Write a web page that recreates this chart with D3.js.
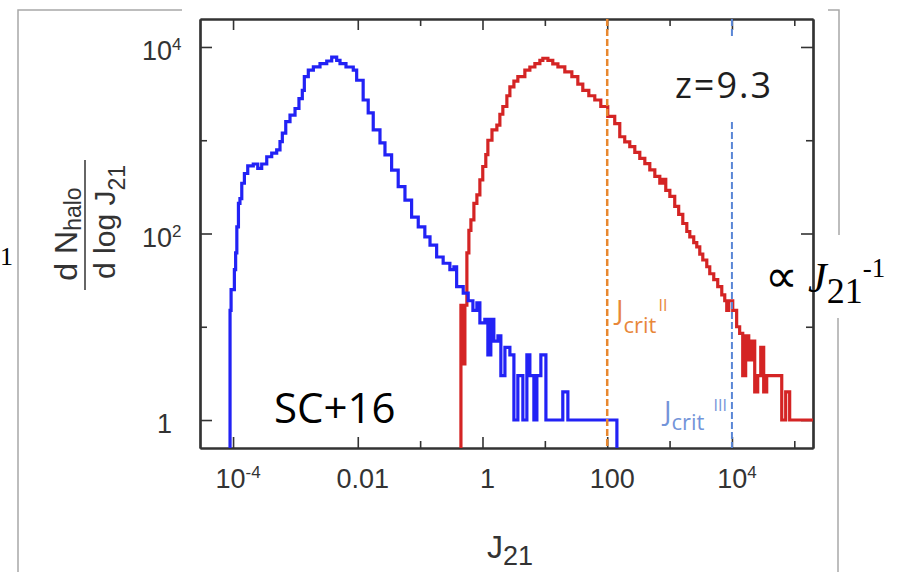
<!DOCTYPE html>
<html>
<head>
<meta charset="utf-8">
<script src="https://cdn.jsdelivr.net/npm/d3@7"></script>
<style>
  body { margin: 0; background: #fff; }
  svg { display: block; }
</style>
</head>
<body>
<div id="chart"></div>
<script>
// tick values and labels
const xMajor = [1e-4, 1e-2, 1, 1e2, 1e4];
const xMinor = [1e-1, 10, 1e3, 1e5];
const xLabelBase = ["10", "0.01", "1", "100", "10"];
const xLabelSup = ["-4", "", "", "", "4"];
const yMajor = [1, 1e2, 1e4];
const yMinor = [10, 1e3];
const yLabelBase = ["1", "10", "10"];
const yLabelSup = ["", "2", "4"];

// blue histogram (SC+16): left bin edge in J21, halo count
const blueJ = [8.95e-5, 8.95e-5, 9.3e-5, 1.05e-4, 1.10e-4, 1.15e-4, 1.22e-4, 1.29e-4, 1.38e-4, 1.52e-4,
  1.72e-4, 2.11e-4, 2.49e-4, 2.88e-4, 3.47e-4, 4.17e-4, 5.01e-4, 5.66e-4, 6.17e-4, 7.0e-4,
  8.19e-4, 9.86e-4, 1.14e-3, 1.29e-3, 1.39e-3, 1.61e-3, 1.94e-3, 2.48e-3, 3.18e-3, 3.82e-3,
  4.59e-3, 5.19e-3, 6.47e-3, 8.47e-3, 9.6e-3, 0.0122, 0.0147, 0.0177, 0.0227, 0.0273,
  0.0349, 0.0445, 0.0571, 0.073, 0.0933, 0.119, 0.144, 0.184, 0.234, 0.300,
  0.348, 0.385, 0.491, 0.59, 0.702, 0.813, 0.908, 1.09, 1.22, 1.36,
  1.52, 1.77, 1.97, 2.29, 2.75, 3.19, 3.69, 4.44, 5.15, 5.75,
  6.67, 7.45, 8.63, 10.4, 19.4, 23.4, 143];
const blueN = [0, 15, 25, 41, 62, 118, 210, 237, 346, 440,
  530, 556, 500, 556, 665, 728, 787, 966, 1190, 1580,
  1860, 2190, 2790, 3420, 4810, 5650, 6120, 6630, 7070, 7790,
  7180, 6630, 6100, 5650, 4400, 2700, 1970, 1290, 935, 697,
  478, 318, 228, 150, 118, 92, 75, 56, 48, 41,
  44, 27, 23, 19, 15, 18, 11, 12, 5, 12,
  7, 8, 3, 6, 5, 1, 3, 1, 5, 3,
  1, 3, 5, 1, 2, 1, 0];

// red histogram
const redJ = [0.451, 0.451, 0.494, 0.522, 0.562, 0.605, 0.652, 0.728, 0.813, 0.908,
  1.01, 1.13, 1.22, 1.42, 1.70, 1.90, 2.12, 2.46, 2.75, 3.19,
  3.69, 4.78, 5.75, 6.92, 8.32, 9.29, 11.2, 13.4, 16.2, 20.9,
  27.1, 33.8, 40.6, 50.7, 63.2, 78.9, 102, 132, 159, 191,
  230, 277, 333, 401, 482, 580, 697, 778, 869, 1010,
  1210, 1400, 1630, 1890, 2110, 2440, 2730, 3050, 3410, 3950,
  4410, 5110, 5920, 6870, 7670, 8260, 8890, 10300, 11900, 13300,
  14900, 16600, 18600, 20800, 23200, 25900, 29000, 32300, 36100, 40400,
  62900, 72800, 84300, 2e5];
const redN = [0, 17, 4, 17, 62, 108, 140, 210, 260, 375,
  523, 700, 1000, 1290, 1450, 1900, 2300, 3000, 3740, 4300,
  4810, 5650, 6100, 6630, 7200, 7570, 7180, 6600, 6120, 5400,
  4810, 4000, 3420, 3000, 2700, 2300, 1800, 1510, 1090, 960,
  855, 740, 640, 560, 480, 410, 346, 380, 290, 250,
  195, 160, 128, 105, 92, 80, 72, 60, 52, 44,
  37, 32, 27, 22, 19, 15, 19, 15, 10, 8.5,
  3, 8, 4.4, 7, 2, 3, 6, 2, 3, 3,
  1, 2, 1, 1];

// critical values
const jCritII = 100;
const jCritIII = 1e4;

const W = 908, H = 572;
const margin = { top: 19, right: 95, bottom: 124, left: 200 };
const width = W - margin.left - margin.right;
const height = H - margin.top - margin.bottom;

const svg = d3.select("#chart").append("svg")
  .attr("width", W)
  .attr("height", H);

svg.append("rect").attr("width", W).attr("height", H).attr("fill", "#fff");

// slide frame bits in grey
const frame = svg.append("g").attr("stroke", "#a8a8a8").attr("stroke-width", 1.5).attr("fill", "none");
frame.append("path").attr("d", "M18,572V10H182");
frame.append("path").attr("d", "M828,10H839V235");
frame.append("path").attr("d", "M838,318V572");

svg.append("text")
  .attr("x", 0).attr("y", 265)
  .style("font-family", "'Liberation Serif', 'Times New Roman', serif")
  .style("font-size", "26px")
  .text("1");

const x = d3.scaleLog().domain([Math.pow(10, -4.53), Math.pow(10, 5.3)]).range([0, width]);
const y = d3.scaleLog().domain([Math.pow(10, -0.3), Math.pow(10, 4.3)]).range([height, 0]);

const g = svg.append("g").attr("transform", `translate(${margin.left},${margin.top})`);

g.append("clipPath").attr("id", "plotclip")
  .append("rect").attr("width", width).attr("height", height);

const axisColor = "#333";
const fontSans = "'Liberation Sans', Arial, Helvetica, sans-serif";

function addAxis(axis, transform) {
  const a = g.append("g")
    .attr("transform", transform)
    .style("color", axisColor)
    .call(axis);
  a.select(".domain").attr("stroke-width", 2.2);
  a.selectAll(".tick line").attr("stroke-width", 1.6);
  return a;
}

// major & minor ticks on all four sides, pointing inward
addAxis(d3.axisBottom(x).tickValues(xMajor).tickSize(-11).tickSizeOuter(0).tickFormat(""), `translate(0,${height})`);
addAxis(d3.axisBottom(x).tickValues(xMinor).tickSize(-7).tickSizeOuter(0).tickFormat(""), `translate(0,${height})`);
addAxis(d3.axisTop(x).tickValues(xMajor).tickSize(-11).tickSizeOuter(0).tickFormat(""), "translate(0,0)");
addAxis(d3.axisTop(x).tickValues(xMinor).tickSize(-7).tickSizeOuter(0).tickFormat(""), "translate(0,0)");
addAxis(d3.axisLeft(y).tickValues(yMajor).tickSize(-12).tickSizeOuter(0).tickFormat(""), "translate(0,0)");
addAxis(d3.axisLeft(y).tickValues(yMinor).tickSize(-7).tickSizeOuter(0).tickFormat(""), "translate(0,0)");
addAxis(d3.axisRight(y).tickValues(yMajor).tickSize(-12).tickSizeOuter(0).tickFormat(""), `translate(${width},0)`);
addAxis(d3.axisRight(y).tickValues(yMinor).tickSize(-7).tickSizeOuter(0).tickFormat(""), `translate(${width},0)`);

// x tick labels
xMajor.forEach((v, i) => {
  const t = g.append("text")
    .attr("x", x(v) + 5)
    .attr("y", height + 40)
    .attr("text-anchor", "middle")
    .style("font-family", fontSans)
    .style("font-size", "27px")
    .style("fill", axisColor);
  t.append("tspan").text(xLabelBase[i]);
  if (xLabelSup[i]) {
    t.append("tspan").attr("dy", -10).style("font-size", "17px").text(xLabelSup[i]);
  }
});

// y tick labels
yMajor.forEach((v, i) => {
  g.append("text")
    .attr("x", -28)
    .attr("y", y(v) + 13)
    .attr("text-anchor", "end")
    .style("font-family", fontSans)
    .style("font-size", "27px")
    .style("fill", axisColor)
    .text(yLabelBase[i]);
  if (yLabelSup[i]) {
    g.append("text")
      .attr("x", -28)
      .attr("y", y(v) + 3)
      .style("font-family", fontSans)
      .style("font-size", "17px")
      .style("fill", axisColor)
      .text(yLabelSup[i]);
  }
});

// x axis title
const xt = svg.append("text")
  .attr("x", 487).attr("y", 558)
  .style("font-family", fontSans)
  .style("font-size", "32px")
  .style("fill", axisColor);
xt.append("tspan").text("J");
xt.append("tspan").attr("dy", 7).style("font-size", "27px").text("21");

// y axis title as a fraction
const yt = svg.append("g").attr("transform", "translate(85,225) rotate(-90)");
const num = yt.append("text")
  .attr("x", -9).attr("y", -8)
  .attr("text-anchor", "middle")
  .style("font-family", fontSans)
  .style("font-size", "32px")
  .style("fill", axisColor);
num.append("tspan").text("d N");
num.append("tspan").attr("dy", 4).style("font-size", "23px").text("halo");
yt.append("line")
  .attr("x1", -65).attr("x2", 65)
  .attr("stroke", axisColor).attr("stroke-width", 1.5);
const den = yt.append("text")
  .attr("x", 3).attr("y", 30)
  .attr("text-anchor", "middle")
  .style("font-family", fontSans)
  .style("font-size", "30px")
  .style("fill", axisColor);
den.append("tspan").text("d log J");
den.append("tspan").attr("dy", 10).style("font-size", "23px").text("21");

// histograms
const line = d3.line()
  .x(d => x(d[0]))
  .y(d => d[1] > 0 ? y(d[1]) : height)
  .curve(d3.curveStepAfter);

const plot = g.append("g").attr("clip-path", "url(#plotclip)");

plot.append("path")
  .datum(d3.zip(redJ, redN))
  .attr("d", line)
  .attr("fill", "none")
  .attr("stroke", "#d42424")
  .attr("stroke-width", 3.2)
  .attr("stroke-linejoin", "miter");

plot.append("path")
  .datum(d3.zip(blueJ, blueN))
  .attr("d", line)
  .attr("fill", "none")
  .attr("stroke", "#2222f5")
  .attr("stroke-width", 3.2)
  .attr("stroke-linejoin", "miter");

// critical J lines
plot.append("line")
  .attr("x1", x(jCritII)).attr("x2", x(jCritII))
  .attr("y1", 0).attr("y2", height)
  .attr("stroke", "#e8872e").attr("stroke-width", 2.5)
  .attr("stroke-dasharray", "7,3");

plot.append("line")
  .attr("x1", x(jCritIII)).attr("x2", x(jCritIII))
  .attr("y1", 0).attr("y2", 19)
  .attr("stroke", "#5a86d6").attr("stroke-width", 2)
  .attr("stroke-dasharray", "7,3");
plot.append("line")
  .attr("x1", x(jCritIII)).attr("x2", x(jCritIII))
  .attr("y1", 103).attr("y2", height)
  .attr("stroke", "#5a86d6").attr("stroke-width", 2)
  .attr("stroke-dasharray", "7,3");

// annotations
const fontSlide = "'Open Sans', 'Noto Sans', sans-serif";

const c2 = svg.append("text")
  .attr("x", 616).attr("y", 320)
  .style("font-family", fontSlide)
  .style("fill", "#e8873a");
c2.append("tspan").style("font-size", "28px").text("J");
c2.append("tspan").attr("dy", 13).style("font-size", "22px").text("crit");
c2.append("tspan").attr("dy", -22).attr("dx", 2).style("font-size", "16px").text("II");

const c3 = svg.append("text")
  .attr("x", 664).attr("y", 421)
  .style("font-family", fontSlide)
  .style("fill", "#7394d9");
c3.append("tspan").style("font-size", "28px").text("J");
c3.append("tspan").attr("dy", 9).style("font-size", "22px").text("crit");
c3.append("tspan").attr("dy", -19).attr("dx", 9).style("font-size", "16px").text("III");

svg.append("text")
  .attr("x", 675).attr("y", 98)
  .attr("textLength", 96)
  .attr("lengthAdjust", "spacing")
  .style("font-family", fontSlide)
  .style("font-size", "36px")
  .style("fill", "#1e1e1e")
  .text("z=9.3");

svg.append("text")
  .attr("x", 274).attr("y", 423)
  .style("font-family", fontSlide)
  .style("font-size", "42px")
  .style("fill", "#000")
  .text("SC+16");

const pl = svg.append("text")
  .attr("x", 765).attr("y", 292)
  .style("font-family", "'Liberation Serif', 'Times New Roman', serif")
  .style("fill", "#000");
pl.append("tspan").style("font-size", "46px").text("\u221D");
pl.append("tspan").attr("dx", 10).style("font-size", "42px").style("font-style", "italic").text("J");
pl.append("tspan").attr("dy", 11).style("font-size", "36px").text("21");
pl.append("tspan").attr("dy", -26).style("font-size", "27px").text("-1");
</script>
</body>
</html>
